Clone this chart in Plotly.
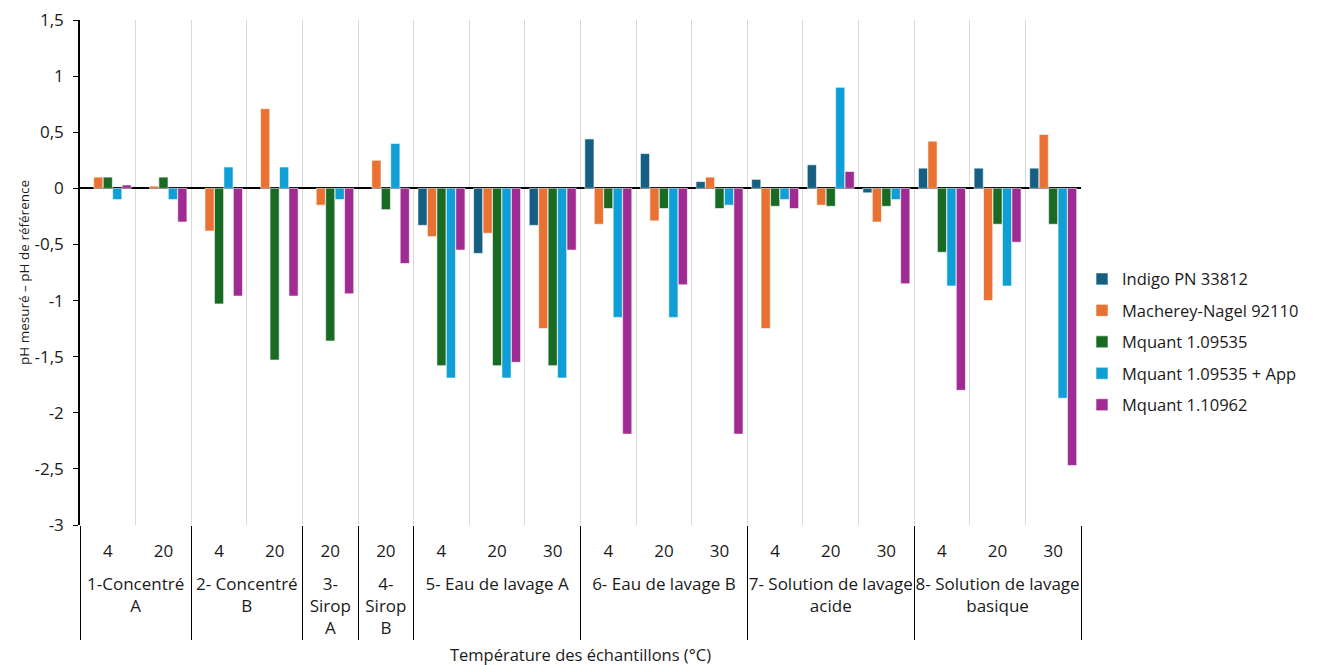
import plotly.graph_objects as go

groups = (["<br>1-Concentré<br>A"] * 2 + ["<br>2- Concentré<br>B"] * 2
          + ["<br>3-<br>Sirop<br>A"] + ["<br>4-<br>Sirop<br>B"]
          + ["<br>5- Eau de lavage A"] * 3 + ["<br>6- Eau de lavage B"] * 3
          + ["<br>7- Solution de lavage<br>acide"] * 3 + ["<br>8- Solution de lavage<br>basique"] * 3)
temps = ["4", "20", "4", "20", "20", "20", "4", "20", "30", "4", "20", "30",
         "4", "20", "30", "4", "20", "30"]

series_names = ["Indigo PN 33812", "Macherey-Nagel 92110", "Mquant 1.09535",
                "Mquant 1.09535 + App", "Mquant 1.10962"]

indigo = [None, None, None, None, None, None, -0.33, -0.58, -0.33, 0.44, 0.31, 0.06,
          0.08, 0.21, -0.04, 0.18, 0.18, 0.18]
macherey = [0.10, 0.02, -0.38, 0.71, -0.15, 0.25, -0.43, -0.40, -1.25, -0.32, -0.29, 0.10,
            -1.25, -0.15, -0.30, 0.42, -1.00, 0.48]
mquant1 = [0.10, 0.10, -1.03, -1.53, -1.36, -0.19, -1.58, -1.58, -1.58, -0.18, -0.18, -0.18,
           -0.16, -0.16, -0.16, -0.57, -0.32, -0.32]
mquant_app = [-0.10, -0.10, 0.19, 0.19, -0.10, 0.40, -1.69, -1.69, -1.69, -1.15, -1.15, -0.15,
              -0.10, 0.90, -0.10, -0.87, -0.87, -1.87]
mquant2 = [0.03, -0.30, -0.96, -0.96, -0.94, -0.67, -0.55, -1.55, -0.55, -2.19, -0.86, -2.19,
           -0.18, 0.15, -0.85, -1.80, -0.48, -2.47]

colors = ["#156082", "#E97132", "#196B24", "#0F9ED5", "#A02B93"]

y_tickvals = [1.5, 1, 0.5, 0, -0.5, -1, -1.5, -2, -2.5, -3]
y_ticktext = ["1,5", "1", "0,5", "0", "-0,5", "-1", "-1,5", "-2", "-2,5", "-3"]

FONT = "Open Sans"
TXT = "#1a1a1a"

fig = go.Figure()
for i, (name, vals) in enumerate(zip(series_names, [indigo, macherey, mquant1, mquant_app, mquant2])):
    fig.add_trace(go.Bar(
        x=[groups, temps], y=vals, name=name,
        marker=dict(color=colors[i], line=dict(color="white", width=0.6)),
        legendgroup=str(i),
    ))

# page body has an 8px default margin: compensate so the plot lands where the reference has it
fig.update_layout(
    width=1312, height=657,
    margin=dict(l=72, r=239, t=12, b=140, autoexpand=False),
    paper_bgcolor="white", plot_bgcolor="white",
    barmode="group", bargap=0.15, bargroupgap=0.03,
    font=dict(family=FONT, size=17, color=TXT),
    legend=dict(x=1.001, y=0.362, xanchor="left", yanchor="middle",
                font=dict(size=16.5), tracegroupgap=7, itemwidth=30),
    showlegend=True,
)

fig.update_xaxes(
    type="multicategory",
    automargin=False,
    tickson="boundaries",
    showgrid=True, gridcolor="#D9D9D9", gridwidth=1,
    ticks="", ticklabelstandoff=14,
    showline=False,
    showdividers=True, dividercolor="black", dividerwidth=1,
    tickfont=dict(size=17, color=TXT),
    title=dict(text="Température des échantillons (°C)", font=dict(size=16.5, color=TXT), standoff=11),
)
fig.update_yaxes(
    automargin=False,
    range=[-3, 1.5],
    tickvals=y_tickvals, ticktext=y_ticktext,
    ticklabeloverflow="allow",
    showgrid=False,
    zeroline=True, zerolinecolor="black", zerolinewidth=1.5,
    showline=True, linecolor="black", linewidth=1.5,
    ticks="outside", ticklen=5, tickcolor="black",
    ticklabelstandoff=6,
    tickfont=dict(size=17, color=TXT),
    title=dict(text="pH mesuré – pH de référence", font=dict(size=13.5, color=TXT), standoff=2),
)

fig.write_html("out.html")
